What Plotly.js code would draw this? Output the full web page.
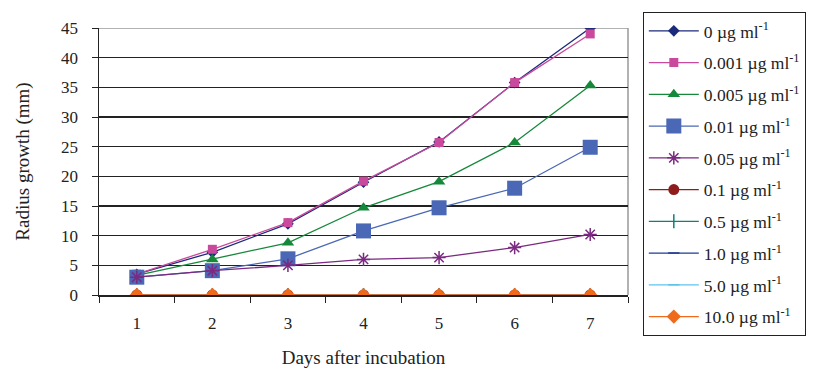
<!DOCTYPE html>
<html>
<head>
<meta charset="utf-8">
<script src="https://cdn.plot.ly/plotly-3.0.1.min.js"></script>
<style>body{margin:0;background:#fff}#chart{width:818px;height:371px}</style>
</head>
<body>
<div id="chart"></div>
<script>
const days = ['1','2','3','4','5','6','7'];
const labels = ['0 µg ml<sup>-1</sup>','0.001 µg ml<sup>-1</sup>','0.005 µg ml<sup>-1</sup>','0.01 µg ml<sup>-1</sup>','0.05 µg ml<sup>-1</sup>','0.1 µg ml<sup>-1</sup>','0.5 µg ml<sup>-1</sup>','1.0 µg ml<sup>-1</sup>','5.0 µg ml<sup>-1</sup>','10.0 µg ml<sup>-1</sup>'];
const c0    = [3.5, 7.2, 12.0, 19.0, 25.8, 35.8, 45.0];
const c0001 = [3.5, 7.7, 12.2, 19.2, 25.7, 35.8, 44.0];
const c0005 = [3.3, 6.0, 8.8, 14.7, 19.1, 25.7, 35.3];
const c001  = [3.0, 4.1, 6.1, 10.8, 14.7, 18.0, 24.9];
const c005  = [3.0, 4.1, 5.0, 6.0, 6.3, 8.0, 10.2];
const c01   = [0, 0, 0, 0, 0, 0, 0];
const c05   = [0, 0, 0, 0, 0, 0, 0];
const c1    = [0, 0, 0, 0, 0, 0, 0];
const c5    = [0, 0, 0, 0, 0, 0, 0];
const c10   = [0, 0, 0, 0, 0, 0, 0];

const series = [c0, c0001, c0005, c001, c005, c01, c05, c1, c5, c10];
const styles = [
  {color:'#1b2a7a', symbol:'diamond', size:9},
  {color:'#c9499c', symbol:'square', size:9},
  {color:'#15883a', symbol:'triangle-up', size:11},
  {color:'#4a68b5', symbol:'square', size:15},
  {color:'#7a2a80', symbol:'asterisk-open', size:11},
  {color:'#8e1c1c', symbol:'circle', size:11},
  {color:'#0f7f7a', symbol:'line-ns-open', size:10},
  {color:'#1f3a93', symbol:'line-ew-open', size:8},
  {color:'#5cc3ef', symbol:'line-ew-open', size:8},
  {color:'#f06a1c', symbol:'diamond', size:11}
];
const traces = series.map((s,i)=>({
  x: days, y: s, type:'scatter', mode:'lines+markers', name: labels[i],
  legendgroup: 'g'+i,
  line:{color: styles[i].color, width:1.3},
  marker:{color: styles[i].color, symbol: styles[i].symbol, size: styles[i].size,
          line:{color: styles[i].color, width: styles[i].symbol.indexOf('open')>=0 ? 1.5 : 0}}
}));

const layout = {
  width:818, height:371,
  margin:{l:99, r:190, t:24, b:76},
  paper_bgcolor:'#fff', plot_bgcolor:'#fff',
  font:{family:'Liberation Serif, Times New Roman, serif', color:'#222', size:17},
  showlegend:true,
  legend:{x:1.028, xanchor:'left', y:1.06, yanchor:'top', bordercolor:'#222', borderwidth:1,
          font:{size:17.5, color:'#222'}, itemwidth:50, traceorder:'grouped', tracegroupgap:6,
          bgcolor:'#fff', maxheight:371},
  xaxis:{type:'category', range:[-0.5,6.5], showline:true, linecolor:'#222', linewidth:1.5,
         ticks:'outside', tickson:'boundaries', ticklen:6, tickcolor:'#222', showgrid:false,
         zeroline:false, tickfont:{size:17}, ticklabelstandoff:12,
         title:{text:'Days after incubation', font:{size:19}, standoff:19}},
  yaxis:{range:[0,45], dtick:5, showline:true, linecolor:'#222', linewidth:1.5,
         ticks:'outside', ticklen:6, tickcolor:'#222', gridcolor:'#222', gridwidth:1.5,
         zeroline:false, tickfont:{size:17}, ticklabelstandoff:10,
         title:{text:'Radius growth (mm)', font:{size:19}, standoff:26}},
  shapes:[
    {type:'line', xref:'paper', yref:'y', x0:0, x1:1, y0:45, y1:45, line:{color:'#999', width:1.5}, layer:'below'},
    {type:'line', xref:'paper', yref:'y', x0:1, x1:1, y0:0, y1:45, line:{color:'#999', width:1.5}, layer:'below'}
  ]
};
Plotly.newPlot('chart', traces, layout, {displayModeBar:false, staticPlot:true});
</script>
</body>
</html>
